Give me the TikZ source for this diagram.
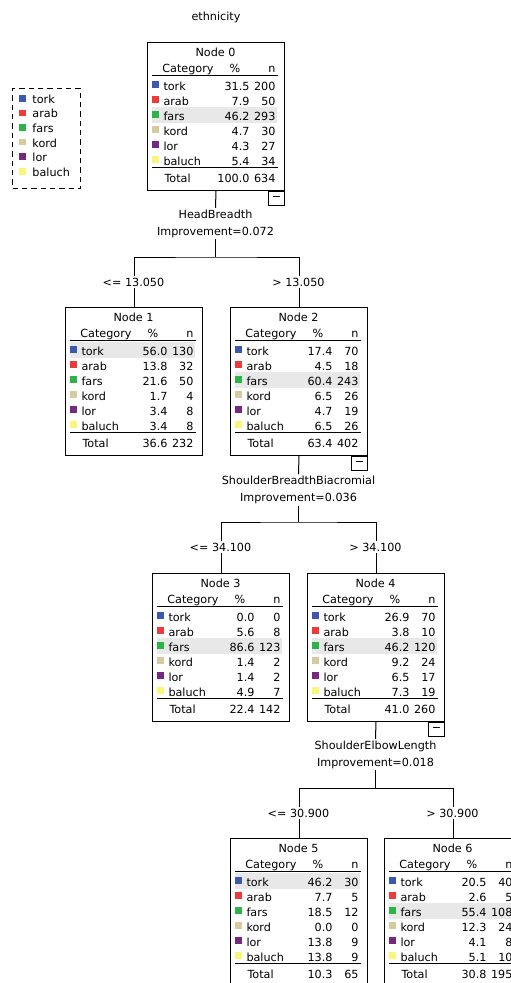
\documentclass[tikz,border=0pt]{standalone}
\usepackage{fontspec}
\setmainfont{DejaVu Sans}
\usetikzlibrary{calc, positioning}
\definecolor{tork}{RGB}{60,88,176}
\definecolor{arab}{RGB}{238,58,58}
\definecolor{fars}{RGB}{44,180,72}
\definecolor{kord}{RGB}{212,204,158}
\definecolor{lor}{RGB}{118,40,128}
\definecolor{baluch}{RGB}{250,246,120}
\colorlet{rowbg}{black!9}
\tikzstyle{treebox} = [draw, rectangle, anchor=north west, inner sep=0pt,
    minimum width=102.75pt, minimum height=111pt]
\tikzstyle{cell} = [inner sep=0pt, text height=6.3pt, text depth=0pt]
\tikzstyle{minusbox} = [draw, rectangle, anchor=north east, inner sep=0pt,
    minimum width=12pt, minimum height=10.5pt]
\tikzstyle{splitlabel} = [align=center, inner sep=1pt,
    font=\fontsize{8.4}{12.75}\selectfont]
\tikzstyle{cutlabel} = [fill=white, inner sep=1pt]
\tikzstyle{legendbox} = [draw, dashed, dash pattern=on 4pt off 3pt,
    rectangle, anchor=north west, minimum width=51pt, minimum height=75pt]

% one tree node: name, left/top, number, shaded row, rows, total %, total n
\newcommand{\catnode}[7]{%
  \begin{scope}[shift={(#2)}]
    \node [treebox] (#1) at (0,0) {};
    \fill [rowbg] (5,{20+15*#4}) rectangle (130,{36+15*#4});
    \node [cell] at (68.5,10) {Node #3};
    \node [cell] at (41,26) {Category};
    \node [cell] at (88,26) {\%};
    \node [cell, anchor=east] at (129,26) {n};
    \draw (5,33) -- (131,33);
    \foreach \cat/\pc/\cnt [count=\i] in {#5} {
      \fill [\cat] (5,{24+15*\i}) rectangle (11.5,{30.5+15*\i});
      \node [cell, anchor=west] at (16,{29+15*\i}) {\cat};
      \node [cell, anchor=east] at (103,{29+15*\i}) {\pc};
      \node [cell, anchor=east] at (129,{29+15*\i}) {\cnt};
    }
    \draw (5,125) -- (131,125);
    \node [cell, anchor=west] at (17,136) {Total};
    \node [cell, anchor=east] at (103,136) {#6};
    \node [cell, anchor=east] at (129,136) {#7};
  \end{scope}}

\begin{document}
\begin{tikzpicture}[x=0.75pt, y=-0.75pt, line width=0.75pt,
    font=\fontsize{8.4}{10}\selectfont]
  \clip (0,0) rectangle (511,983);
  \fill [white] (0,0) rectangle (511,983);

  % Place the blocks
  \node (title) at (216,17) {ethnicity};
  \node [legendbox] (legend) at (12,88) {};
  \foreach \cat [count=\i from 0] in {tork, arab, fars, kord, lor, baluch} {
    \fill [\cat] (19,{95+14.6*\i}) rectangle (25.5,{101.5+14.6*\i});
    \node [cell, anchor=west] at (32,{99+14.6*\i}) {\cat};
  }

  \catnode{n0}{147,42}{0}{3}{tork/31.5/200, arab/7.9/50, fars/46.2/293,
    kord/4.7/30, lor/4.3/27, baluch/5.4/34}{100.0}{634}
  \catnode{n1}{65,307}{1}{1}{tork/56.0/130, arab/13.8/32, fars/21.6/50,
    kord/1.7/4, lor/3.4/8, baluch/3.4/8}{36.6}{232}
  \catnode{n2}{230,307}{2}{3}{tork/17.4/70, arab/4.5/18, fars/60.4/243,
    kord/6.5/26, lor/4.7/19, baluch/6.5/26}{63.4}{402}
  \catnode{n3}{152,573}{3}{3}{tork/0.0/0, arab/5.6/8, fars/86.6/123,
    kord/1.4/2, lor/1.4/2, baluch/4.9/7}{22.4}{142}
  \catnode{n4}{307,573}{4}{3}{tork/26.9/70, arab/3.8/10, fars/46.2/120,
    kord/9.2/24, lor/6.5/17, baluch/7.3/19}{41.0}{260}
  \catnode{n5}{230,838}{5}{1}{tork/46.2/30, arab/7.7/5, fars/18.5/12,
    kord/0.0/0, lor/13.8/9, baluch/13.8/9}{10.3}{65}
  \catnode{n6}{384,838}{6}{3}{tork/20.5/40, arab/2.6/5, fars/55.4/108,
    kord/12.3/24, lor/4.1/8, baluch/5.1/10}{30.8}{195}

  \node [minusbox] (m0) at (n0.south east) {−};
  \node [minusbox] (m2) at (n2.south east) {−};
  \node [minusbox] (m4) at (n4.south east) {−};

  \node [splitlabel] (s0) at (215.5,223.5) {HeadBreadth\\Improvement=0.072};
  \node [splitlabel] (s2) at (298.5,490) {ShoulderBreadthBiacromial\\Improvement=0.036};
  \node [splitlabel] (s4) at (375.5,754.5) {ShoulderElbowLength\\Improvement=0.018};
  \coordinate (j0) at (215.5,257);
  \coordinate (j2) at (298.5,522);
  \coordinate (j4) at (375.5,788);

  % Connect the nodes
  \draw (n0.south) -- (s0.north);
  \draw (s0.south) -- (j0);
  \draw (n1.north) |- (j0) -| (n2.north);
  \draw (n2.south) -- (s2.north);
  \draw (s2.south) -- (j2);
  \draw (n3.north) |- (j2) -| (n4.north);
  \draw (n4.south) -- (s4.north);
  \draw (s4.south) -- (j4);
  \draw (n5.north) |- (j4) -| (n6.north);

  \node [cutlabel] (c1) at (133.5,282) {<= 13.050};
  \node [cutlabel] (c2) at (298.5,282) {> 13.050};
  \node [cutlabel] (c3) at (220.5,547) {<= 34.100};
  \node [cutlabel] (c4) at (375.5,547) {> 34.100};
  \node [cutlabel] (c5) at (298.5,813) {<= 30.900};
  \node [cutlabel] (c6) at (452.5,813) {> 30.900};
\end{tikzpicture}
\end{document}
